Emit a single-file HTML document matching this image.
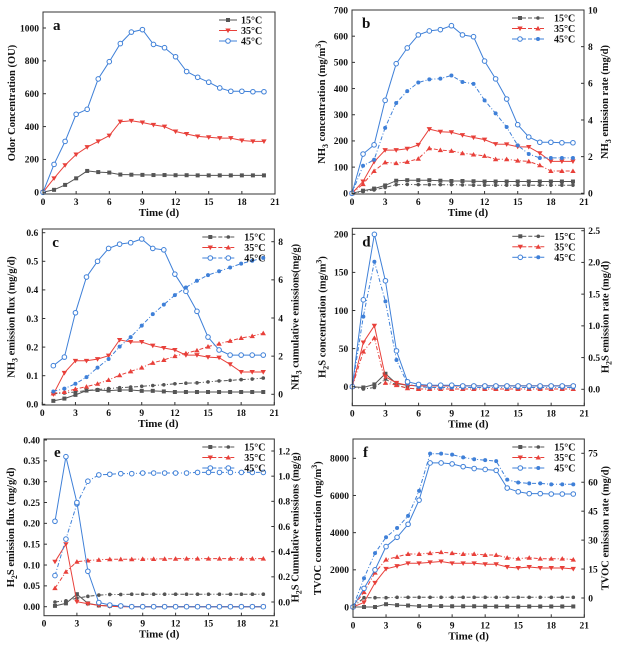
<!DOCTYPE html>
<html><head><meta charset="utf-8"><style>
html,body{margin:0;padding:0;background:#fff;}
svg{display:block;}
text{font-family:"Liberation Serif",serif;font-weight:bold;fill:#111;}
</style></head><body>
<svg id="s" width="625" height="649" viewBox="0 0 625 649" xmlns="http://www.w3.org/2000/svg"></svg>
<script>
const S=document.getElementById('s');let out='';
const G='#555',R='#e8403a',B='#3f80d8';
function lin(v0,p0,v1,p1){return v=>p0+(v-v0)*(p1-p0)/(v1-v0);}
function mk(type,x,y,c){
 const r=2.3;
 switch(type){
 case 'sq':return `<rect x="${x-2}" y="${y-2}" width="4" height="4" fill="${c}"/>`;
 case 'dot':return `<circle cx="${x}" cy="${y}" r="1.8" fill="${c}"/>`;
 case 'dn':return `<polygon points="${x-2.7},${y-2} ${x+2.7},${y-2} ${x},${y+2.6}" fill="${c}"/>`;
 case 'up':return `<polygon points="${x-2.7},${y+2} ${x+2.7},${y+2} ${x},${y-2.6}" fill="${c}"/>`;
 case 'oc':return `<circle cx="${x}" cy="${y}" r="${r}" fill="#fff" stroke="${c}" stroke-width="1"/>`;
 case 'st':return `<circle cx="${x}" cy="${y}" r="2" fill="${c}"/>`;
 }}
function panel(p){
 const X=lin(0,p.x0,21,p.x1);const L=lin(p.lv[0],p.lv[1],p.lv[2],p.lv[3]);
 const Rr=p.rv?lin(p.rv[0],p.rv[1],p.rv[2],p.rv[3]):null;
 p.series.forEach(s=>{
  const f=s.ax==='R'?Rr:L;const st=s.x||0;
  const pts=s.d.map((v,i)=>[X(st+i),f(v)]);
  out+=`<polyline fill="none" stroke="${s.c}" stroke-width="1" ${s.dash?'stroke-dasharray="4,2,1,2"':''} points="${pts.map(q=>q[0].toFixed(1)+','+q[1].toFixed(1)).join(' ')}"/>`;
  pts.forEach(q=>out+=mk(s.m,q[0],q[1],s.c));
 });
 out+=`<rect x="${p.x0}" y="${p.top}" width="${p.x1-p.x0}" height="${p.bot-p.top}" fill="none" stroke="#333" stroke-width="1"/>`;
 for(let t=0;t<=21;t+=3){const x=X(t);out+=`<line x1="${x}" y1="${p.bot}" x2="${x}" y2="${p.bot-3}" stroke="#333"/><text x="${x}" y="${p.bot+11}" font-size="9.5" text-anchor="middle">${t}</text>`;}
 p.lt.forEach(t=>{const y=L(t);out+=`<line x1="${p.x0}" y1="${y}" x2="${p.x0+3}" y2="${y}" stroke="#333"/><text x="${p.x0-4}" y="${y+3.3}" font-size="9.5" text-anchor="end">${p.lf?p.lf(t):t}</text>`;});
 if(Rr)p.rt.forEach(t=>{const y=Rr(t);out+=`<line x1="${p.x1}" y1="${y}" x2="${p.x1-3}" y2="${y}" stroke="#333"/><text x="${p.x1+4}" y="${y+3.3}" font-size="9.5">${p.rf?p.rf(t):t}</text>`;});
 out+=`<text x="${(p.x0+p.x1)/2}" y="${p.bot+22}" font-size="11" text-anchor="middle">Time (d)</text>`;
 const cy=(p.top+p.bot)/2;
 out+=`<text transform="translate(${p.x0-p.ly},${cy}) rotate(-90)" font-size="10.5" text-anchor="middle">${p.ltitle}</text>`;
 if(p.rtitle)out+=`<text transform="translate(${p.x1+p.ry},${cy}) rotate(-90)" font-size="10.5" text-anchor="middle">${p.rtitle}</text>`;
 out+=`<text x="${p.x0+10}" y="${p.top+18}" font-size="15">${p.letter}</text>`;
 const labs=['15°C','35°C','45°C'],cols=[G,R,B];
 labs.forEach((l,i)=>{const y=p.top+8+i*10.5;const c=cols[i];
  if(p.dual){const a=p.x1-72;out+=`<line x1="${a}" y1="${y}" x2="${a+14}" y2="${y}" stroke="${c}"/><line x1="${a+16}" y1="${y}" x2="${a+32}" y2="${y}" stroke="${c}" stroke-dasharray="4,2"/>`;
   out+=mk(p.m1[i],a+8,y,c)+mk(p.m2[i],a+26,y,c);out+=`<text x="${a+42}" y="${y+3.5}" font-size="10">${l}</text>`;}
  else{const a=p.x1-56;out+=`<line x1="${a}" y1="${y}" x2="${a+18}" y2="${y}" stroke="${c}"/>`+mk(p.m1[i],a+9,y,c)+`<text x="${a+22}" y="${y+3.5}" font-size="10">${l}</text>`;}
 });
}
panel({x0:43,x1:275,top:12,bot:194,lv:[0,192.3,1000,28],lt:[0,200,400,600,800,1000],letter:'a',ly:28,
 ltitle:'Odor Concentration (OU)',m1:['sq','dn','oc'],
 series:[
 {c:G,m:'sq',d:[0,15,45,85,130,123,120,108,107,106,105,105,104,104,103,103,103,103,103,103,103]},
 {c:R,m:'dn',d:[0,85,165,230,275,310,345,430,435,425,410,400,370,355,340,335,330,330,315,310,310]},
 {c:B,m:'oc',d:[0,170,310,475,505,690,795,905,975,990,900,880,825,735,700,670,635,615,615,612,612]}]});
panel({x0:352,x1:584,top:10,bot:194,lv:[0,193.3,700,10],rv:[0,193.3,10,10],lt:[0,100,200,300,400,500,600,700],rt:[0,2,4,6,8,10],
 letter:'b',ly:27,ry:24,dual:1,m1:['sq','dn','oc'],m2:['dot','up','st'],
 ltitle:'NH<tspan font-size="8" dy="3">3</tspan><tspan dy="-3"> concentration (mg/m</tspan><tspan font-size="8" dy="-4">3</tspan><tspan dy="4">)</tspan>',
 rtitle:'NH<tspan font-size="8" dy="3">3</tspan><tspan dy="-3"> emission rate (mg/d)</tspan>',
 series:[
 {c:G,m:'dot',dash:1,d:[0,7,13,22,33,34,33,33,33,33,32,31,31,31,31,31,31,31,31,31,31]},
 {c:G,m:'sq',d:[0,10,18,30,48,50,50,50,48,47,47,46,45,45,45,45,45,45,45,45,45]},
 {c:R,m:'up',dash:1,d:[0,35,85,118,115,120,132,172,165,162,153,148,143,130,130,125,122,107,85,85,85]},
 {c:R,m:'dn',d:[0,45,120,165,165,170,185,245,235,233,222,213,205,188,187,178,177,153,122,122,122]},
 {c:B,m:'st',dash:1,d:[0,105,128,250,345,390,423,435,438,450,425,418,355,305,253,183,150,135,135,135,135]},
 {c:B,m:'oc',d:[0,150,185,355,495,555,605,620,625,640,605,598,505,437,360,262,215,195,195,193,193]}]});
panel({x0:42.3,x1:274.3,top:229,bot:405,lv:[0,404.3,0.6,232.7],rv:[0,394.3,8,241.7],lt:[0,0.1,0.2,0.3,0.4,0.5,0.6],lf:t=>t.toFixed(1),rt:[0,2,4,6,8],
 letter:'c',ly:28,ry:24,dual:1,m1:['sq','dn','oc'],m2:['dot','up','oc'],
 ltitle:'NH<tspan font-size="8" dy="3">3</tspan><tspan dy="-3"> emission flux (mg/g/d)</tspan>',
 rtitle:'NH<tspan font-size="8" dy="3">3</tspan><tspan dy="-3"> cumulative emissions(mg/g)</tspan>',
 series:[
 {x:1,c:G,m:'dot',dash:1,ax:'R',d:[0.03,0.07,0.12,0.2,0.25,0.3,0.35,0.38,0.42,0.46,0.5,0.55,0.58,0.6,0.65,0.7,0.73,0.77,0.8,0.85]},
 {x:1,c:G,m:'sq',d:[0.012,0.02,0.033,0.048,0.05,0.048,0.05,0.05,0.047,0.047,0.045,0.043,0.043,0.043,0.043,0.043,0.043,0.043,0.043,0.043]},
 {x:1,c:R,m:'up',dash:1,ax:'R',d:[0.05,0.12,0.28,0.4,0.55,0.75,1.0,1.2,1.4,1.65,1.8,2.0,2.15,2.3,2.5,2.65,2.8,2.95,3.05,3.2]},
 {x:1,c:R,m:'dn',d:[0.035,0.11,0.152,0.152,0.158,0.17,0.225,0.218,0.218,0.205,0.197,0.19,0.172,0.172,0.165,0.163,0.14,0.113,0.113,0.113]},
 {x:1,c:B,m:'st',dash:1,ax:'R',d:[0.15,0.3,0.55,0.9,1.4,1.85,2.5,3.0,3.6,4.2,4.7,5.2,5.6,5.95,6.25,6.45,6.65,6.85,7.0,7.15]},
 {x:1,c:B,m:'oc',d:[0.135,0.165,0.32,0.445,0.5,0.545,0.56,0.565,0.578,0.545,0.54,0.455,0.395,0.325,0.235,0.19,0.172,0.172,0.172,0.172]}]});
panel({x0:352.3,x1:584.3,top:228.3,bot:405.7,lv:[0,386.7,200,234.3],rv:[0,389.3,2.5,230.7],lt:[0,50,100,150,200],rt:[0,0.5,1,1.5,2,2.5],rf:t=>t.toFixed(1),
 letter:'d',ly:27,ry:24,dual:1,m1:['sq','dn','oc'],m2:['dot','up','st'],
 ltitle:'H<tspan font-size="8" dy="3">2</tspan><tspan dy="-3">S concentration (mg/m</tspan><tspan font-size="8" dy="-4">3</tspan><tspan dy="4">)</tspan>',
 rtitle:'H<tspan font-size="8" dy="3">2</tspan><tspan dy="-3">S emission rate (mg/d)</tspan>',
 series:[
 {c:G,m:'dot',dash:1,d:[0,-3,-1,10,2,-2,-3,-3,-3,-3,-3,-3,-3,-3,-3,-3,-3,-3,-3,-3,-3]},
 {c:G,m:'sq',d:[0,-1,3,17,4,2,1,1,1,1,1,1,1,1,1,1,1,1,1,1,1]},
 {c:R,m:'up',dash:1,d:[0,46,64,5,2,-2,-3,-3,-3,-3,-3,-3,-3,-3,-3,-3,-3,-3,-3,-3,-3]},
 {c:R,m:'dn',d:[0,58,80,13,5,2,1,1,1,1,1,1,1,1,1,1,1,1,1,1,1]},
 {c:B,m:'st',dash:1,d:[0,92,164,112,35,4,0,-1,-1,-1,-1,-1,-1,-1,-1,-1,-1,-1,-1,-1,-1]},
 {c:B,m:'oc',d:[0,114,200,139,47,6.5,3,2,2,2,1,1,1,1,1,1,1,1,1,1,1]}]});
panel({x0:44,x1:274.3,top:439,bot:615.7,lv:[0,606.7,0.4,440],rv:[0,602,1.2,451],lt:[0,0.05,0.1,0.15,0.2,0.25,0.3,0.35,0.4],lf:t=>t.toFixed(2),rt:[0,0.2,0.4,0.6,0.8,1.0,1.2],rf:t=>t.toFixed(1),
 letter:'e',ly:30,ry:24,dual:1,m1:['sq','dn','oc'],m2:['dot','up','oc'],
 ltitle:'H<tspan font-size="8" dy="3">2</tspan><tspan dy="-3">S emission flux (mg/g/d)</tspan>',
 rtitle:'H<tspan font-size="8" dy="3">2</tspan><tspan dy="-3">S Cumulative emissions (mg/g)</tspan>',
 series:[
 {x:1,c:G,m:'dot',dash:1,ax:'R',d:[0,0.01,0.03,0.045,0.055,0.06,0.06,0.062,0.062,0.062,0.062,0.062,0.062,0.062,0.062,0.062,0.062,0.062,0.062,0.062]},
 {x:1,c:G,m:'sq',d:[0.002,0.008,0.03,0.008,0.003,0.002,0.001,0,0,0,0,0,0,0,0,0,0,0,0,0]},
 {x:1,c:R,m:'up',dash:1,ax:'R',d:[0.11,0.24,0.32,0.33,0.335,0.34,0.34,0.34,0.342,0.342,0.343,0.344,0.345,0.345,0.345,0.345,0.345,0.345,0.345,0.345]},
 {x:1,c:R,m:'dn',d:[0.108,0.15,0.012,0.007,0.003,0.001,0,0,0,0,0,0,0,0,0,0,0,0,0,0]},
 {x:1,c:B,m:'oc',dash:1,ax:'R',d:[0.21,0.5,0.78,0.96,1.01,1.015,1.02,1.02,1.025,1.025,1.025,1.025,1.025,1.03,1.03,1.03,1.03,1.03,1.03,1.03]},
 {x:1,c:B,m:'oc',d:[0.205,0.36,0.25,0.085,0.01,0.004,0.002,0,0,0,0,0,0,0,0,0,0,0,0,0]}]});
panel({x0:353,x1:584.3,top:439,bot:617.3,lv:[0,607,8000,458.3],rv:[0,598,75,453.3],lt:[0,2000,4000,6000,8000],rt:[0,15,30,45,60,75],
 letter:'f',ly:32,ry:24,dual:1,m1:['sq','dn','oc'],m2:['dot','up','st'],
 ltitle:'TVOC concentration (mg/m<tspan font-size="8" dy="-4">3</tspan><tspan dy="4">)</tspan>',
 rtitle:'TVOC emission rate (mg/d)',
 series:[
 {c:G,m:'dot',dash:1,d:[0,500,500,500,520,520,520,520,520,520,520,520,520,520,520,520,520,520,520,520,520]},
 {c:G,m:'sq',d:[0,0,0,150,100,80,50,50,50,40,40,40,30,30,30,30,30,30,30,30,30]},
 {c:R,m:'up',dash:1,d:[0,800,1850,2550,2700,2850,2850,2900,2950,2900,2850,2850,2800,2800,2650,2600,2650,2600,2600,2600,2550]},
 {c:R,m:'dn',d:[0,250,1300,2050,2200,2350,2350,2400,2450,2350,2350,2350,2300,2300,2150,2100,2150,2100,2100,2100,2050]},
 {c:B,m:'st',dash:1,d:[0,1550,2900,3750,4250,4900,6250,8250,8250,8200,8050,7950,7900,7850,6850,6700,6650,6650,6600,6600,6600]},
 {c:B,m:'oc',d:[0,1000,2000,3250,3750,4450,5750,7750,7750,7700,7550,7450,7400,7350,6400,6200,6100,6100,6080,6080,6080]}]});
S.innerHTML=out;
</script>
</body></html>
